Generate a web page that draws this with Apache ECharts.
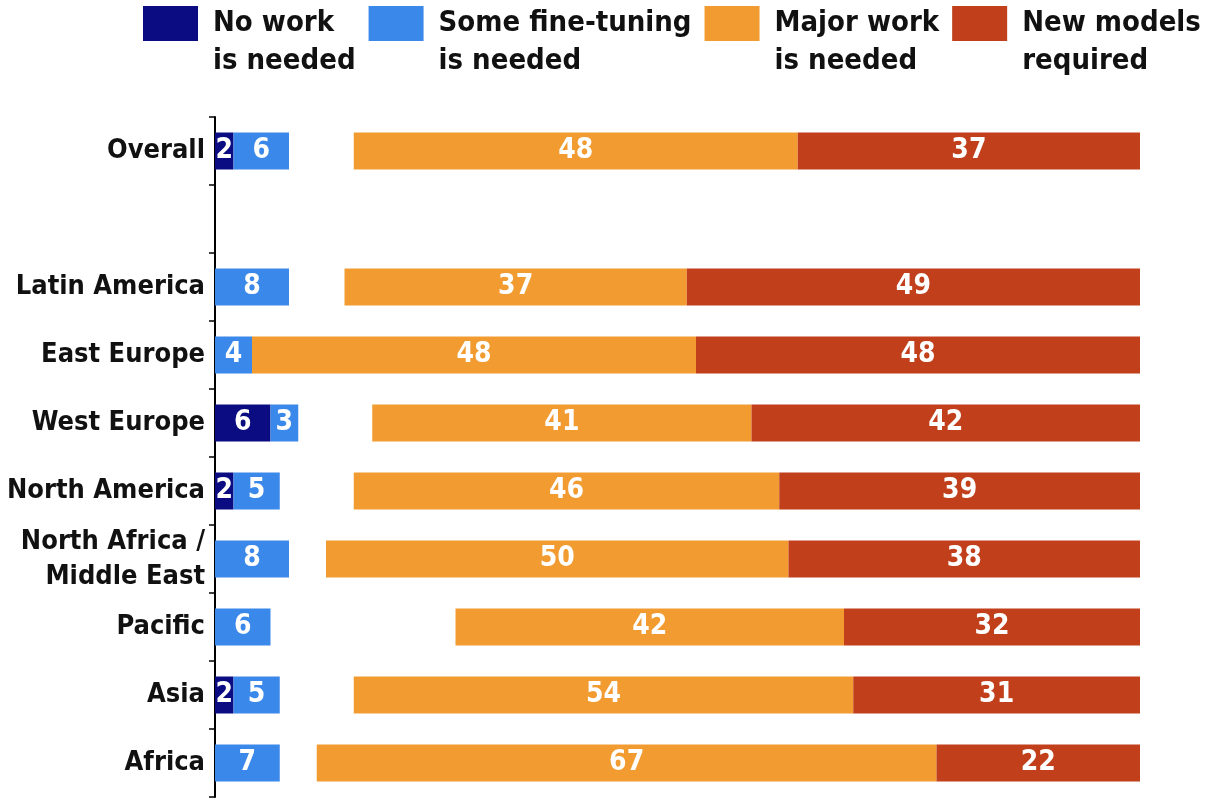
<!DOCTYPE html>
<html>
<head>
<meta charset="utf-8">
<script src="https://cdn.jsdelivr.net/npm/echarts@6/dist/echarts.min.js"></script>
<style>html,body{margin:0;padding:0;background:#fff}#c{width:1205px;height:799px}</style>
</head>
<body>
<div id="c"></div>
<script>
const categories = ['Overall', '', 'Latin America', 'East Europe', 'West Europe', 'North America', 'North Africa /\nMiddle East', 'Pacific', 'Asia', 'Africa'];
const noWork     = [2, null, 0, 0, 6, 2, 0, 0, 2, 0];
const fineTuning = [6, null, 8, 4, 3, 5, 8, 6, 5, 7];
const majorWork  = [48, null, 37, 48, 41, 46, 50, 42, 54, 67];
const newModels  = [37, null, 49, 48, 42, 39, 38, 32, 31, 22];
const seriesNames = ['No work\nis needed', 'Some fine-tuning\nis needed', 'Major work\nis needed', 'New models\nrequired'];
const colors = ['#0b0b82', '#3a88ea', '#f19b31', '#c13f1b'];

const gap = categories.map((c, i) => majorWork[i] == null ? null :
  100 - (noWork[i] + fineTuning[i] + majorWork[i] + newModels[i]));

const FONT = "'DejaVu Sans Condensed', 'Open Sans', sans-serif";
const icon = 'path://M0,0H55V35H0Z M65,72H65.01V72.01H65Z';

function mk(name, data, color) {
  return {
    name: name, type: 'bar', stack: 's', data: data, barWidth: 37,
    itemStyle: { color: color },
    label: {
      show: true, position: 'inside', color: '#fff', fontFamily: FONT,
      fontWeight: 'bold', fontSize: 28,
      formatter: p => (p.value ? String(p.value) : '')
    }
  };
}

const chart = echarts.init(document.getElementById('c'), null, { renderer: 'canvas' });
chart.setOption({
  animation: false,
  legend: {
    data: seriesNames, left: 143, top: 4, padding: 0, itemGap: 13, width: 1200,
    itemWidth: 65, itemHeight: 72, icon: icon, symbolKeepAspect: false,
    selectedMode: false,
    textStyle: { fontFamily: FONT, fontWeight: 'bold', fontSize: 29, lineHeight: 38, color: '#111' }
  },
  grid: { left: 215, right: 65, top: 117, bottom: 2, outerBoundsMode: 'none', containLabel: false },
  xAxis: { type: 'value', min: 0, max: 100, show: false },
  yAxis: {
    type: 'category', data: categories, inverse: true,
    axisLine: { lineStyle: { color: '#000', width: 2 } },
    axisTick: { show: true, length: 6, lineStyle: { color: '#000', width: 1.5 } },
    axisLabel: { fontFamily: FONT, fontWeight: 'bold', fontSize: 27, lineHeight: 35, color: '#111', margin: 10 }
  },
  series: [
    mk(seriesNames[0], noWork, colors[0]),
    mk(seriesNames[1], fineTuning, colors[1]),
    { name: 'gap', type: 'bar', stack: 's', data: gap, barWidth: 37, silent: true,
      itemStyle: { color: 'rgba(0,0,0,0)' }, label: { show: false } },
    mk(seriesNames[2], majorWork, colors[2]),
    mk(seriesNames[3], newModels, colors[3])
  ]
});
</script>
</body>
</html>
